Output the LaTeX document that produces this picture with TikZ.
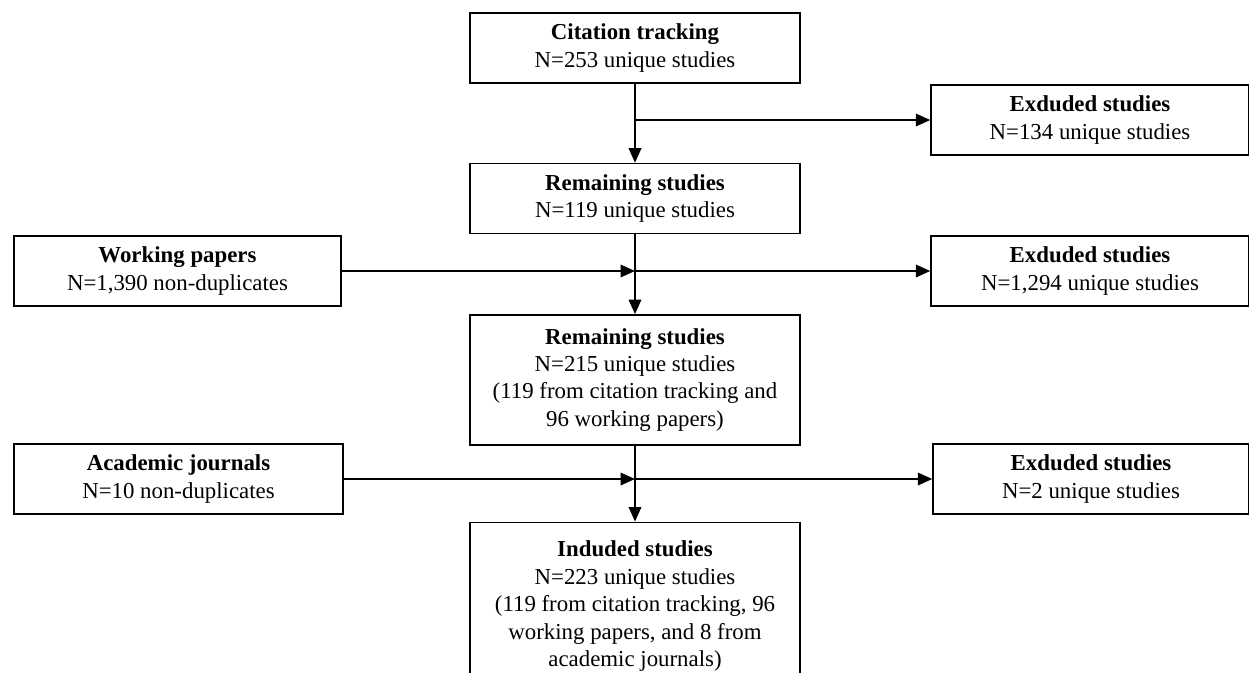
\documentclass[tikz,border=0pt]{standalone}
\usepackage{fontspec}
\setmainfont{Liberation Serif}
\usetikzlibrary{positioning,arrows.meta}
\tikzset{
  box/.style={draw, line width=0.8pt, align=center, font=\fontsize{13}{15.6}\selectfont,
              minimum width=6.6cm, minimum height=1.4cm, inner sep=2pt},
  flow/.style={-{Triangle[length=2.9mm,width=2.5mm]}, line width=1.1pt},
}

\begin{document}
\begin{tikzpicture}
        \useasboundingbox (0,0) rectangle (24.98,-13.44);
        \node[box] (cite) at (12.7,-0.96) {\textbf{Citation tracking}\\N=253 unique studies};
        \node[box, below=1.58cm of cite] (rem1) {\textbf{Remaining studies}\\N=119 unique studies};
        \node[box, below=1.6cm of rem1, minimum height=2.6cm] (rem2)
          {\textbf{Remaining studies}\\N=215 unique studies\\(119 from citation tracking and\\96 working papers)};
        \node[box, below=1.52cm of rem2, minimum height=3.36cm] (inc)
          {\textbf{Induded studies}\\N=223 unique studies\\(119 from citation tracking, 96\\working papers, and 8 from\\academic journals)};
        \node[box, minimum width=6.36cm] (exc1) at (21.8,-2.4) {\textbf{Exduded studies}\\N=134 unique studies};
        \node[box, minimum width=6.54cm] (wp) at (3.55,-5.42) {\textbf{Working papers}\\N=1,390 non-duplicates};
        \node[box, minimum width=6.36cm] (exc2) at (21.8,-5.42) {\textbf{Exduded studies}\\N=1,294 unique studies};
        \node[box, minimum width=6.58cm] (aj) at (3.57,-9.58) {\textbf{Academic journals}\\N=10 non-duplicates};
        \node[box, minimum width=6.32cm] (exc3) at (21.82,-9.58) {\textbf{Exduded studies}\\N=2 unique studies};
        % branch points on the main line
        \coordinate (j1) at (cite.south |- exc1.west);
        \coordinate (j2) at (rem1.south |- wp.east);
        \coordinate (j3) at (rem2.south |- aj.east);
        \draw[flow] (cite) -- (rem1);
        \draw[flow] (j1) -- (exc1);
        \draw[flow] (rem1) -- (rem2);
        \draw[flow] (wp) -- (j2);
        \draw[flow] (j2) -- (exc2);
        \draw[flow] (rem2) -- (inc);
        \draw[flow] (aj) -- (j3);
        \draw[flow] (j3) -- (exc3);
      \end{tikzpicture}
\end{document}
